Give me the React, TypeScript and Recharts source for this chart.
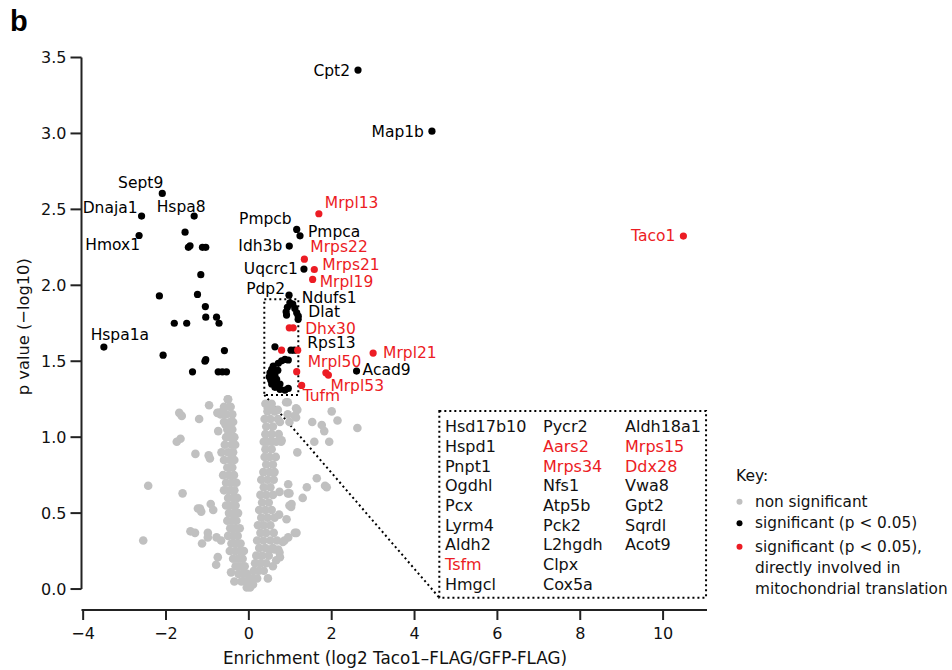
import React from 'react';
import { ScatterChart, Scatter, XAxis, YAxis, ReferenceLine, ReferenceArea } from 'recharts';

const FONT = '"DejaVu Sans", "Liberation Sans", sans-serif';
const RED = '#ec1c24';
const GRAY = '#c0c0c0';
const BLACK = '#000000';
const AXIS = '#222222';

// ---------- data ----------
const xTicks = [-4, -2, 0, 2, 4, 6, 8, 10];
const yTicks = [0, 0.5, 1, 1.5, 2, 2.5, 3, 3.5];

const grayPoints: [number, number][] = [
  // left outliers
  [-2.55, 0.32], [-2.43, 0.68], [-1.68, 1.16], [-1.62, 1.14], [-1.74, 0.97], [-1.65, 0.99], [-1.60, 0.63],
  [-1.29, 0.89], [-1.20, 1.12], [-0.96, 1.21], [-1.18, 0.53], [-1.23, 0.53], [-1.15, 0.51], [-0.92, 0.56],
  [-0.86, 0.52], [-1.41, 0.38], [-1.30, 0.37], [-1.13, 0.30], [-0.97, 0.88], [-0.94, 0.86], [-0.99, 0.37],
  [-0.99, 0.34], [-0.78, 0.34], [-0.67, 0.32], [-0.75, 0.21], [-0.79, 0.16], [-0.43, 0.11], [-0.35, 0.05],
  [-0.66, 0.90], [-0.76, 1.16], [-0.63, 1.17], [-0.68, 1.15], [-0.50, 1.25], [-0.44, 1.20], [-0.74, 1.04],
  [-0.56, 1.08], [-0.50, 1.05], [-0.72, 1.16], [-0.51, 1.25], [-0.47, 1.20],
  // right outliers
  [0.94, 1.23], [1.17, 1.18], [1.11, 1.14], [0.75, 1.10], [0.79, 0.98], [1.17, 0.90], [1.53, 1.10],
  [1.76, 1.08], [1.82, 1.04], [2.00, 1.17], [2.14, 1.11], [1.58, 0.97], [1.94, 0.97], [2.62, 1.06],
  [1.64, 0.73], [1.84, 0.68], [1.88, 0.67], [1.40, 0.67], [1.30, 0.60], [0.95, 0.69], [0.98, 0.63],
  [1.03, 0.56], [1.02, 0.54], [0.98, 0.55], [0.73, 0.49], [0.91, 0.46], [1.11, 0.37], [1.15, 0.37],
  [0.95, 0.34], [0.86, 0.32], [0.82, 0.31], [0.71, 0.26], [0.75, 0.21], [0.74, 0.64], [0.94, 0.63],
  [0.50, 0.26], [0.62, 0.26], [0.74, 0.24], [0.66, 0.19], [0.58, 0.15], [0.46, 0.07],
  [0.46, 1.19], [0.54, 1.20], [0.70, 1.18], [0.90, 1.23], [0.94, 1.15], [1.14, 1.19], [1.14, 1.13], [0.98, 1.10],
  // left branch
  [-0.60, 1.20], [-0.55, 1.15], [-0.40, 1.15], [-0.60, 1.10], [-0.45, 1.10], [-0.38, 1.10],
  [-0.52, 1.05], [-0.40, 1.05], [-0.55, 1.00], [-0.45, 1.00], [-0.35, 1.00], [-0.58, 0.95], [-0.42, 0.95],
  [-0.33, 0.95], [-0.50, 0.90], [-0.38, 0.90], [-0.60, 0.85], [-0.45, 0.85], [-0.35, 0.85], [-0.52, 0.80],
  [-0.40, 0.80], [-0.62, 0.75], [-0.48, 0.75], [-0.36, 0.75], [-0.55, 0.70], [-0.42, 0.70], [-0.30, 0.70],
  [-0.60, 0.65], [-0.47, 0.65], [-0.35, 0.65], [-0.50, 0.60], [-0.38, 0.60], [-0.28, 0.60], [-0.55, 0.55],
  [-0.43, 0.55], [-0.32, 0.55], [-0.48, 0.50], [-0.36, 0.50], [-0.26, 0.50], [-0.52, 0.45], [-0.40, 0.45],
  [-0.30, 0.45], [-0.45, 0.40], [-0.33, 0.40], [-0.22, 0.40], [-0.50, 0.35], [-0.38, 0.35], [-0.27, 0.35],
  [-0.42, 0.30], [-0.30, 0.30], [-0.20, 0.30], [-0.46, 0.25], [-0.33, 0.25], [-0.22, 0.25], [-0.12, 0.25],
  [-0.38, 0.20], [-0.26, 0.20], [-0.15, 0.20], [-0.32, 0.15], [-0.20, 0.15], [-0.10, 0.15], [-0.25, 0.10],
  [-0.14, 0.10], [-0.04, 0.10], [-0.18, 0.05], [-0.08, 0.05], [0.02, 0.05], [-0.05, 0.01], [0.03, 0.01],
  // right branch
  [0.40, 1.22], [0.55, 1.22], [0.45, 1.17], [0.62, 1.17], [0.38, 1.12], [0.52, 1.12], [0.70, 1.12],
  [0.42, 1.07], [0.58, 1.07], [0.40, 1.02], [0.55, 1.02], [0.72, 1.02], [0.36, 0.97], [0.46, 0.97],
  [0.56, 0.97], [0.66, 0.97], [0.78, 0.97], [0.40, 0.92], [0.55, 0.92], [0.38, 0.87], [0.50, 0.87],
  [0.65, 0.87], [0.42, 0.82], [0.58, 0.82], [0.35, 0.77], [0.50, 0.77], [0.62, 0.77], [0.30, 0.72],
  [0.45, 0.72], [0.60, 0.72], [0.36, 0.67], [0.52, 0.67], [0.28, 0.62], [0.42, 0.62], [0.58, 0.62],
  [0.32, 0.57], [0.48, 0.57], [0.25, 0.52], [0.40, 0.52], [0.55, 0.52], [0.30, 0.47], [0.45, 0.47],
  [0.62, 0.47], [0.22, 0.42], [0.36, 0.42], [0.52, 0.42], [0.28, 0.37], [0.42, 0.37], [0.60, 0.37],
  [0.20, 0.32], [0.35, 0.32], [0.52, 0.32], [0.68, 0.32], [0.25, 0.27], [0.40, 0.27], [0.58, 0.27],
  [0.18, 0.22], [0.32, 0.22], [0.48, 0.22], [0.15, 0.17], [0.28, 0.17], [0.42, 0.17], [0.12, 0.12],
  [0.24, 0.12], [0.36, 0.12], [0.08, 0.07], [0.20, 0.07], [0.10, 0.03],
];

const blackLabeled = [
  { name: 'Cpt2', x: 2.635, y: 3.417 },
  { name: 'Map1b', x: 4.42, y: 3.015 },
  { name: 'Sept9', x: -2.09, y: 2.605 },
  { name: 'Dnaja1', x: -2.59, y: 2.456 },
  { name: 'Hspa8', x: -1.32, y: 2.456 },
  { name: 'Hmox1', x: -2.65, y: 2.328 },
  { name: 'Hspa1a', x: -3.5, y: 1.593 },
  { name: 'Pmpcb', x: 1.155, y: 2.368 },
  { name: 'Pmpca', x: 1.235, y: 2.326 },
  { name: 'Idh3b', x: 0.976, y: 2.258 },
  { name: 'Uqcrc1', x: 1.33, y: 2.107 },
  { name: 'Pdp2', x: 0.97, y: 1.935 },
  { name: 'Ndufs1', x: 0.99, y: 1.885 },
  { name: 'Dlat', x: 1.193, y: 1.797 },
  { name: 'Rps13', x: 1.097, y: 1.573 },
  { name: 'Acad9', x: 2.6, y: 1.435 },
];

const blackPoints: [number, number][] = [
  [-1.54, 2.35], [-1.46, 2.25], [-1.42, 2.26], [-1.12, 2.25], [-1.04, 2.25], [-1.16, 2.07], [-2.16, 1.93],
  [-1.24, 1.94], [-1.05, 1.86], [-1.80, 1.75], [-1.50, 1.75], [-1.04, 1.79], [-0.78, 1.79], [-0.72, 1.75],
  [-2.07, 1.54], [-0.59, 1.57], [-1.04, 1.51], [-1.06, 1.50], [-1.36, 1.43], [-0.74, 1.43], [-0.64, 1.43],
  [-0.54, 1.43],
  [1.06, 1.876], [0.93, 1.855], [1.11, 1.848], [0.90, 1.826], [1.155, 1.819], [0.91, 1.804], [1.19, 1.776],
  [0.63, 1.595], [1.017, 1.573],
  [0.872, 1.512], [0.952, 1.508], [0.792, 1.503], [0.711, 1.486], [0.589, 1.468], [0.551, 1.446],
  [0.510, 1.424], [0.493, 1.398], [0.630, 1.409], [0.527, 1.376], [0.671, 1.381], [0.551, 1.350],
  [0.751, 1.350], [0.630, 1.328], [0.751, 1.315], [0.872, 1.310], [0.952, 1.321],
  [0.60, 1.43], [0.70, 1.44], [0.62, 1.37], [0.70, 1.33],
];

const redLabeled = [
  { name: 'Mrpl13', x: 1.69, y: 2.471 },
  { name: 'Mrps22', x: 1.34, y: 2.172 },
  { name: 'Mrps21', x: 1.58, y: 2.104 },
  { name: 'Mrpl19', x: 1.54, y: 2.039 },
  { name: 'Taco1', x: 10.49, y: 2.324 },
  { name: 'Dhx30', x: 1.07, y: 1.72 },
  { name: 'Mrpl21', x: 3.0, y: 1.554 },
  { name: 'Mrpl50', x: 1.155, y: 1.431 },
  { name: 'Mrpl53', x: 1.92, y: 1.409 },
  { name: 'Tufm', x: 1.275, y: 1.341 },
];

const redPoints: [number, number][] = [
  [0.976, 1.72], [1.86, 1.424], [0.79, 1.573], [1.179, 1.573],
];

const insetCol1 = ['Hsd17b10', 'Hspd1', 'Pnpt1', 'Ogdhl', 'Pcx', 'Lyrm4', 'Aldh2', 'Tsfm', 'Hmgcl'];
const insetCol2 = ['Pycr2', 'Aars2', 'Mrps34', 'Nfs1', 'Atp5b', 'Pck2', 'L2hgdh', 'Clpx', 'Cox5a'];
const insetCol3 = ['Aldh18a1', 'Mrps15', 'Ddx28', 'Vwa8', 'Gpt2', 'Sqrdl', 'Acot9'];
const insetRed = ['Tsfm', 'Aars2', 'Mrps34', 'Mrps15', 'Ddx28'];

const legendTitle = 'Key:';
const legendItems = [
  { color: GRAY, lines: ['non significant'] },
  { color: BLACK, lines: ['significant (p < 0.05)'] },
  { color: RED, lines: ['significant (p < 0.05),', 'directly involved in', 'mitochondrial translation'] },
];

const xTitle = 'Enrichment (log2 Taco1\u2013FLAG/GFP-FLAG)';
const yTitle = 'p value (\u2212log10)';

// ---------- layout ----------
const LABEL_LAYOUT: Record<string, { dx: number; dy: number; anchor: 'start' | 'middle' | 'end' }> = {
  Cpt2: { dx: -8, dy: 1, anchor: 'end' },
  Map1b: { dx: -8, dy: 1, anchor: 'end' },
  Sept9: { dx: 1, dy: -10, anchor: 'end' },
  Dnaja1: { dx: -4, dy: -8, anchor: 'end' },
  Hspa8: { dx: -13, dy: -9, anchor: 'middle' },
  Hmox1: { dx: 1, dy: 10, anchor: 'end' },
  Hspa1a: { dx: 16, dy: -12, anchor: 'middle' },
  Pmpcb: { dx: -5, dy: -10, anchor: 'end' },
  Pmpca: { dx: 8, dy: -4, anchor: 'start' },
  Idh3b: { dx: -7, dy: 0, anchor: 'end' },
  Uqcrc1: { dx: -6, dy: 0, anchor: 'end' },
  Pdp2: { dx: -4, dy: -6, anchor: 'end' },
  Ndufs1: { dx: 12, dy: -5, anchor: 'start' },
  Dlat: { dx: 10, dy: -4, anchor: 'start' },
  Rps13: { dx: 13, dy: -7, anchor: 'start' },
  Acad9: { dx: 6, dy: -1, anchor: 'start' },
  Mrpl13: { dx: 6, dy: -11, anchor: 'start' },
  Mrps22: { dx: 6, dy: -12, anchor: 'start' },
  Mrps21: { dx: 8, dy: -5, anchor: 'start' },
  Mrpl19: { dx: 7, dy: 3, anchor: 'start' },
  Taco1: { dx: -8, dy: 0, anchor: 'end' },
  Dhx30: { dx: 12, dy: 1, anchor: 'start' },
  Mrpl21: { dx: 10, dy: 0, anchor: 'start' },
  Mrpl50: { dx: 11, dy: -10, anchor: 'start' },
  Mrpl53: { dx: 2, dy: 11, anchor: 'start' },
  Tufm: { dx: 1, dy: 11, anchor: 'start' },
};

const X_DOMAIN: [number, number] = [-4.04, 11.06];
const Y_DOMAIN: [number, number] = [-0.138, 3.5];
const SMALL_BOX = { x1: 0.373, x2: 1.194, y1: 1.278, y2: 1.908 };
const BIG_BOX = { x1: 4.598, x2: 11.037, y1: -0.057, y2: 1.172 };
const DOT = '2 3';

const grayData = grayPoints.map(([x, y]) => ({ x, y }));
const blackData = [...blackPoints.map(([x, y]) => ({ x, y })), ...blackLabeled];
const redData = [...redPoints.map(([x, y]) => ({ x, y })), ...redLabeled];

const makeShape = (color: string, r: number) => (props: any) => {
  const { cx, cy, payload } = props;
  if (cx == null || cy == null) return <g />;
  const name = payload && payload.name;
  const lay = name ? LABEL_LAYOUT[name] : null;
  return (
    <g>
      <circle cx={cx} cy={cy} r={r} fill={color} />
      {lay && (
        <text
          x={cx + lay.dx}
          y={cy + lay.dy}
          textAnchor={lay.anchor}
          dominantBaseline="central"
          fontFamily={FONT}
          fontSize={15.5}
          fill={color}
        >
          {name}
        </text>
      )}
    </g>
  );
};

const fmtX = (v: number) => (v < 0 ? '\u2212' + Math.abs(v) : String(v));

export default function App() {
  const rowY = (i: number) => 426.7 + 19.7 * i;
  const colX = [445, 543, 625];
  const cols = [insetCol1, insetCol2, insetCol3];
  return (
    <div style={{ position: 'absolute', left: 0, top: 0, width: 952, height: 670, background: '#fff' }}>
      <ScatterChart width={952} height={670} margin={{ top: 57.5, right: 245, bottom: 30, left: 21.5 }}>
        <XAxis
          type="number"
          dataKey="x"
          domain={X_DOMAIN}
          ticks={xTicks}
          allowDataOverflow
          interval={0}
          height={30}
          tickSize={10}
          tickMargin={8}
          axisLine={{ stroke: AXIS, strokeWidth: 2 }}
          tickLine={{ stroke: AXIS, strokeWidth: 2 }}
          tick={{ fill: '#111', fontSize: 16, fontFamily: FONT }}
          tickFormatter={fmtX}
        />
        <YAxis
          type="number"
          dataKey="y"
          domain={Y_DOMAIN}
          ticks={yTicks}
          allowDataOverflow
          interval={0}
          width={60}
          tickSize={11}
          tickMargin={4}
          axisLine={false}
          tickLine={{ stroke: AXIS, strokeWidth: 2 }}
          tick={{ fill: '#111', fontSize: 16, fontFamily: FONT }}
          tickFormatter={(v: number) => v.toFixed(1)}
        />
        <ReferenceLine
          segment={[{ x: X_DOMAIN[0], y: 0 }, { x: X_DOMAIN[0], y: 3.5 }]}
          stroke={AXIS}
          strokeWidth={2}
          ifOverflow="visible"
        />
        <Scatter data={grayData} isAnimationActive={false} shape={makeShape(GRAY, 4.3)} />
        <ReferenceArea {...SMALL_BOX} fill="none" fillOpacity={0} stroke="#000" strokeWidth={2} strokeDasharray={DOT} ifOverflow="visible" />
        <ReferenceArea {...BIG_BOX} fill="none" fillOpacity={0} stroke="#000" strokeWidth={2} strokeDasharray={DOT} ifOverflow="visible" />
        <ReferenceLine
          segment={[{ x: SMALL_BOX.x1, y: SMALL_BOX.y1 }, { x: BIG_BOX.x1, y: BIG_BOX.y1 }]}
          stroke="#000"
          strokeWidth={2}
          strokeDasharray={DOT}
          ifOverflow="visible"
        />
        <Scatter data={blackData} isAnimationActive={false} shape={makeShape(BLACK, 3.6)} />
        <Scatter data={redData} isAnimationActive={false} shape={makeShape(RED, 3.6)} />
      </ScatterChart>
      <svg
        width={952}
        height={670}
        style={{ position: 'absolute', left: 0, top: 0, pointerEvents: 'none' }}
      >
        <text x={10} y={31} fontFamily='"Liberation Sans", Arial, sans-serif' fontWeight="bold" fontSize={29} fill="#000">
          b
        </text>
        <text x={395} y={664} textAnchor="middle" fontFamily={FONT} fontSize={16.8} fill="#111">
          {xTitle}
        </text>
        <text
          x={29}
          y={326.7}
          textAnchor="middle"
          fontFamily={FONT}
          fontSize={16.3}
          fill="#111"
          transform="rotate(-90 29 326.7)"
        >
          {yTitle}
        </text>
        {cols.map((col, ci) =>
          col.map((name, ri) => (
            <text
              key={name}
              x={colX[ci]}
              y={rowY(ri)}
              dominantBaseline="central"
              fontFamily={FONT}
              fontSize={16}
              fill={insetRed.includes(name) ? RED : '#111'}
            >
              {name}
            </text>
          ))
        )}
        <text x={736} y={476} dominantBaseline="central" fontFamily={FONT} fontSize={15.5} fill="#111">
          {legendTitle}
        </text>
        {legendItems.map((item, i) => {
          const baseY = [501.7, 523.3, 546.7][i];
          return (
            <g key={i}>
              <circle cx={739.5} cy={baseY} r={3} fill={item.color} />
              {item.lines.map((line, li) => (
                <text
                  key={li}
                  x={755}
                  y={baseY + li * 21}
                  dominantBaseline="central"
                  fontFamily={FONT}
                  fontSize={15.3}
                  fill="#111"
                >
                  {line}
                </text>
              ))}
            </g>
          );
        })}
      </svg>
    </div>
  );
}
